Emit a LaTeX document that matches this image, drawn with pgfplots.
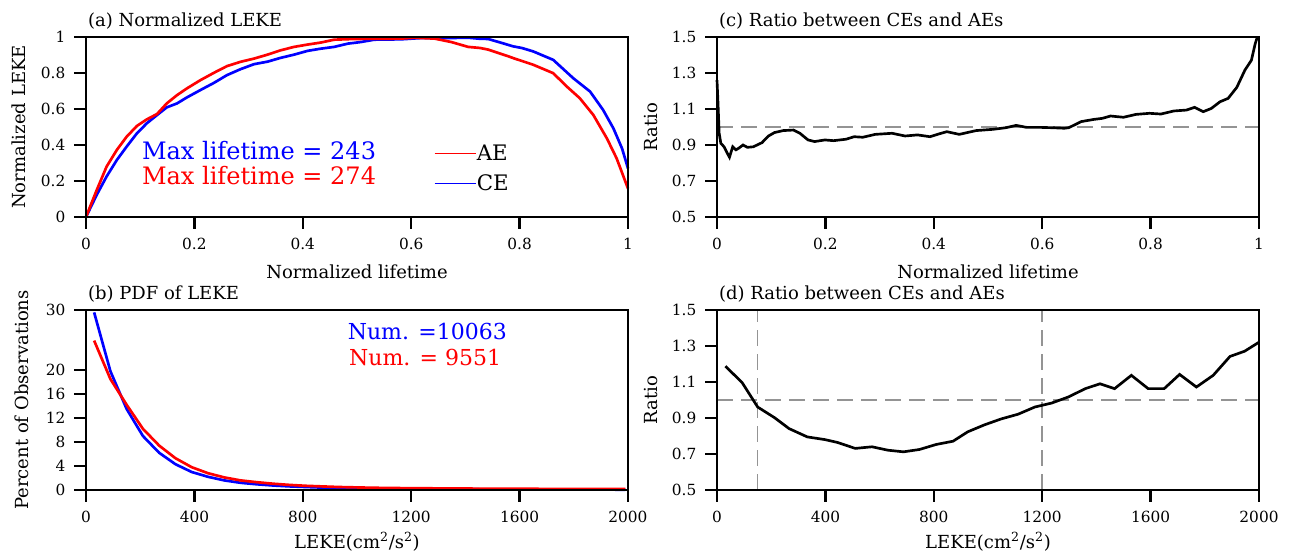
\documentclass[border=0pt]{standalone}
\usepackage{fontspec}
\setmainfont{DejaVu Serif}
\usepackage{pgfplots}
\pgfplotsset{compat=1.18}

\pgfplotsset{
  ncl/.style={
    scale only axis, width=406.5pt, height=135pt, anchor=south west,
    /pgf/number format/assume math mode=true,
    /pgf/number format/1000 sep={},
    axis line style={line width=2.2pt},
    tick align=outside, xtick pos=bottom, ytick pos=left,
    major tick length=9pt,
    tick style={line width=1.8pt},
    minor tick num=0,
    clip=false,
    unbounded coords=jump,
    ticklabel style={font=\fontsize{11.5}{12}\selectfont},
    xticklabel shift=3pt, yticklabel shift=3pt,
    title style={at={(axis description cs:0,1)}, anchor=base west, yshift=1.5pt, xshift=-2pt,
      font=\fontsize{13.5}{14}\selectfont},
    label style={font=\fontsize{13.5}{14}\selectfont},
    xlabel style={at={(axis description cs:0.5,0)}, anchor=base, yshift=-46pt},
    ylabel style={at={(axis description cs:-0.124,0.5)}, anchor=center},
  },
  refline/.style={color=black!42, line width=1.1pt, dash pattern=on 12pt off 6pt, forget plot},
}

\begin{document}
\begin{tikzpicture}
\useasboundingbox (0,0) rectangle (975pt,416.25pt);

% (a)
\begin{axis}[ncl, at={(64.5pt,253.5pt)},
  xmin=0, xmax=1, ymin=0, ymax=1,
  xtick={0,0.2,0.4,0.6,0.8,1}, ytick={0,0.2,0.4,0.6,0.8,1},
  title={(a) Normalized LEKE},
  xlabel={Normalized lifetime}, ylabel={Normalized LEKE},
  legend cell align=left,
  legend style={draw=none, fill=none, at={(rel axis cs:0.642,0.405)}, anchor=north west,
    inner sep=0pt, row sep=8pt, font=\fontsize{16}{16}\selectfont,
    nodes={inner sep=0.5pt}},
]
\addplot[blue, line width=2pt, forget plot] coordinates {
(0,0)(0.02,0.124)(0.038,0.225)(0.057,0.317)(0.075,0.391)(0.094,0.465)(0.112,0.52)
(0.131,0.566)(0.149,0.609)(0.168,0.631)(0.186,0.664)(0.211,0.705)(0.236,0.745)
(0.260,0.788)(0.285,0.821)(0.310,0.849)(0.335,0.863)(0.359,0.884)(0.384,0.902)
(0.409,0.923)(0.433,0.935)(0.458,0.945)(0.483,0.963)(0.507,0.972)(0.532,0.985)
(0.581,0.987)(0.618,0.994)(0.668,0.994)(0.705,0.996)(0.727,0.990)(0.742,0.989)
(0.767,0.967)(0.788,0.948)(0.804,0.939)(0.825,0.920)(0.862,0.873)(0.899,0.771)
(0.930,0.697)(0.954,0.595)(0.973,0.493)(0.989,0.381)(1.0,0.270)};
\addplot[red, line width=2pt, forget plot] coordinates {
(0,0)(0.02,0.151)(0.038,0.28)(0.057,0.373)(0.075,0.446)(0.094,0.506)(0.112,0.542)
(0.131,0.572)(0.149,0.631)(0.168,0.677)(0.186,0.714)(0.211,0.760)(0.236,0.801)
(0.260,0.838)(0.285,0.862)(0.310,0.880)(0.335,0.902)(0.359,0.926)(0.384,0.945)
(0.409,0.958)(0.433,0.969)(0.458,0.985)(0.495,0.989)(0.581,0.991)(0.606,0.996)
(0.643,0.991)(0.674,0.972)(0.705,0.945)(0.727,0.939)(0.742,0.930)(0.779,0.893)
(0.788,0.883)(0.825,0.846)(0.862,0.799)(0.887,0.725)(0.911,0.660)(0.936,0.567)
(0.961,0.437)(0.979,0.326)(1.0,0.158)};
% heavy frame and ticks
\addplot[black, line width=2.2pt, forget plot] coordinates {(0,0)(1,0)(1,1)(0,1)(0,0)(1,0)};
\addplot[black, line width=1.8pt, forget plot] coordinates {
(0,0)(0,-0.0667)(0,nan)(0.2,0)(0.2,-0.0667)(0.2,nan)(0.4,0)(0.4,-0.0667)(0.4,nan)
(0.6,0)(0.6,-0.0667)(0.6,nan)(0.8,0)(0.8,-0.0667)(0.8,nan)(1,0)(1,-0.0667)(1,nan)
(0,0)(-0.0221,0)(0,nan)(0,0.2)(-0.0221,0.2)(0,nan)(0,0.4)(-0.0221,0.4)(0,nan)
(0,0.6)(-0.0221,0.6)(0,nan)(0,0.8)(-0.0221,0.8)(0,nan)(0,1)(-0.0221,1)};
\addlegendimage{legend image code/.code={\draw[red, line width=0.7pt] (0pt,0pt) -- (30.75pt,0pt);}}
\addlegendentry{AE}
\addlegendimage{legend image code/.code={\draw[blue, line width=0.7pt] (0pt,0pt) -- (30.75pt,0pt);}}
\addlegendentry{CE}
\node[anchor=base west, text=blue, font=\fontsize{18}{18}\selectfont, inner sep=0pt]
  at (axis cs:0.103,0.317) {Max lifetime = 243};
\node[anchor=base west, text=red, font=\fontsize{18}{18}\selectfont, inner sep=0pt]
  at (axis cs:0.103,0.178) {Max lifetime = 274};
\end{axis}

% (b)
\begin{axis}[ncl, at={(64.5pt,48.75pt)},
  xmin=0, xmax=2000, ymin=0, ymax=30,
  xtick={0,400,800,1200,1600,2000}, ytick={0,4,8,12,16,20,30},
  title={(b) PDF of LEKE},
  xlabel={LEKE(cm\textsuperscript{2}/s\textsuperscript{2})},
  xlabel style={yshift=2pt},
  ylabel={Percent of Observations},
  ylabel style={at={(axis description cs:-0.118,0.5)}},
]
\addplot[blue, line width=2pt] coordinates {
(30,29.6)(90,19.8)(150,13.5)(210,9.0)(270,6.2)(330,4.3)(390,3.0)(450,2.2)(510,1.6)
(570,1.2)(630,0.95)(690,0.75)(750,0.6)(810,0.5)(870,0.4)(930,0.33)(990,0.28)
(1050,0.24)(1110,0.2)(1200,0.17)(1300,0.14)(1400,0.12)(1500,0.1)(1600,0.09)
(1700,0.08)(1800,0.07)(1900,0.06)(1990,0.05)};
\addplot[red, line width=2pt] coordinates {
(30,24.9)(90,18.5)(150,14.2)(210,10.2)(270,7.4)(330,5.3)(390,3.8)(450,2.8)(510,2.1)
(570,1.6)(630,1.3)(690,1.05)(750,0.85)(810,0.7)(870,0.6)(930,0.5)(990,0.44)
(1050,0.38)(1110,0.34)(1200,0.3)(1300,0.27)(1400,0.24)(1500,0.22)(1600,0.2)
(1700,0.19)(1800,0.18)(1900,0.17)(1990,0.16)};
\addplot[black, line width=2.2pt, forget plot] coordinates {(0,0)(2000,0)(2000,30)(0,30)(0,0)(2000,0)};
\addplot[black, line width=1.8pt, forget plot] coordinates {
(0,0)(0,-2)(0,nan)(400,0)(400,-2)(400,nan)(800,0)(800,-2)(800,nan)
(1200,0)(1200,-2)(1200,nan)(1600,0)(1600,-2)(1600,nan)(2000,0)(2000,-2)(2000,nan)
(0,0)(-44.3,0)(0,nan)(0,4)(-44.3,4)(0,nan)(0,8)(-44.3,8)(0,nan)(0,12)(-44.3,12)(0,nan)
(0,16)(-44.3,16)(0,nan)(0,20)(-44.3,20)(0,nan)(0,30)(-44.3,30)};
\node[anchor=base west, text=blue, font=\fontsize{16.5}{16.5}\selectfont, inner sep=0pt]
  at (axis cs:965,25.0) {Num. =10063};
\node[anchor=base west, text=red, font=\fontsize{16.5}{16.5}\selectfont, inner sep=0pt]
  at (axis cs:970,20.7) {Num. = 9551};
\end{axis}

% (c)
\begin{axis}[ncl, at={(537.75pt,253.5pt)},
  xmin=0, xmax=1, ymin=0.5, ymax=1.5,
  xtick={0,0.2,0.4,0.6,0.8,1}, ytick={0.5,0.7,0.9,1.1,1.3,1.5},
  yticklabel style={/pgf/number format/.cd, fixed, fixed zerofill, precision=1},
  title={(c) Ratio between CEs and AEs},
  xlabel={Normalized lifetime}, ylabel={Ratio},
  ylabel style={at={(axis description cs:-0.121,0.5)}},
]
\addplot[refline] coordinates {(0,1)(1,1)};
\addplot[black, line width=2pt] coordinates {
(0,1.26)(0.0016,1.15)(0.004,0.965)(0.007,0.91)(0.013,0.89)(0.019,0.854)(0.023,0.832)
(0.029,0.89)(0.035,0.873)(0.040,0.882)(0.048,0.90)(0.056,0.887)(0.067,0.89)
(0.083,0.913)(0.095,0.95)(0.106,0.969)(0.122,0.98)(0.141,0.983)(0.153,0.965)
(0.168,0.928)(0.180,0.919)(0.199,0.928)(0.215,0.924)(0.238,0.932)(0.253,0.946)
(0.269,0.943)(0.292,0.959)(0.323,0.965)(0.347,0.950)(0.370,0.956)(0.393,0.946)
(0.409,0.961)(0.424,0.974)(0.447,0.959)(0.478,0.980)(0.509,0.987)(0.533,0.996)
(0.552,1.009)(0.571,0.998)(0.595,0.998)(0.618,0.996)(0.641,0.993)(0.649,0.996)
(0.672,1.03)(0.695,1.042)(0.711,1.048)(0.726,1.061)(0.750,1.054)(0.773,1.07)
(0.798,1.076)(0.819,1.072)(0.843,1.089)(0.866,1.094)(0.881,1.109)(0.897,1.085)
(0.912,1.103)(0.928,1.140)(0.943,1.159)(0.959,1.220)(0.974,1.316)(0.986,1.371)
(0.993,1.463)(0.997,1.5)};
\addplot[black, line width=2.2pt, forget plot] coordinates {(0,0.5)(1,0.5)(1,1.5)(0,1.5)(0,0.5)(1,0.5)};
\addplot[black, line width=1.8pt, forget plot] coordinates {
(0,0.5)(0,0.4333)(0,nan)(0.2,0.5)(0.2,0.4333)(0.2,nan)(0.4,0.5)(0.4,0.4333)(0.4,nan)
(0.6,0.5)(0.6,0.4333)(0.6,nan)(0.8,0.5)(0.8,0.4333)(0.8,nan)(1,0.5)(1,0.4333)(1,nan)
(0,0.5)(-0.0221,0.5)(0,nan)(0,0.7)(-0.0221,0.7)(0,nan)(0,0.9)(-0.0221,0.9)(0,nan)
(0,1.1)(-0.0221,1.1)(0,nan)(0,1.3)(-0.0221,1.3)(0,nan)(0,1.5)(-0.0221,1.5)};
\end{axis}

% (d)
\begin{axis}[ncl, at={(537.75pt,48.75pt)},
  xmin=0, xmax=2000, ymin=0.5, ymax=1.5,
  xtick={0,400,800,1200,1600,2000}, ytick={0.5,0.7,0.9,1.1,1.3,1.5},
  yticklabel style={/pgf/number format/.cd, fixed, fixed zerofill, precision=1},
  title={(d) Ratio between CEs and AEs},
  xlabel={LEKE(cm\textsuperscript{2}/s\textsuperscript{2})},
  xlabel style={yshift=2pt},
  ylabel={Ratio},
  ylabel style={at={(axis description cs:-0.121,0.5)}},
]
\addplot[refline] coordinates {(0,1)(2000,1)};
\addplot[refline] coordinates {(150,0.5)(150,1.5)};
\addplot[refline] coordinates {(1200,0.5)(1200,1.5)};
\addplot[black, line width=2pt] coordinates {
(31,1.188)(93,1.096)(150,0.961)(212,0.902)(266,0.841)(333,0.795)(398,0.780)
(445,0.764)(510,0.731)(572,0.740)(631,0.721)(688,0.712)(747,0.725)(809,0.753)
(871,0.771)(925,0.823)(987,0.862)(1049,0.895)(1111,0.921)(1173,0.961)(1235,0.983)
(1297,1.017)(1359,1.063)(1413,1.090)(1467,1.063)(1529,1.137)(1591,1.063)(1650,1.063)
(1707,1.142)(1769,1.072)(1831,1.137)(1893,1.242)(1947,1.271)(2000,1.321)};
\addplot[black, line width=2.2pt, forget plot] coordinates {(0,0.5)(2000,0.5)(2000,1.5)(0,1.5)(0,0.5)(2000,0.5)};
\addplot[black, line width=1.8pt, forget plot] coordinates {
(0,0.5)(0,0.4333)(0,nan)(400,0.5)(400,0.4333)(400,nan)(800,0.5)(800,0.4333)(800,nan)
(1200,0.5)(1200,0.4333)(1200,nan)(1600,0.5)(1600,0.4333)(1600,nan)(2000,0.5)(2000,0.4333)(2000,nan)
(0,0.5)(-44.3,0.5)(0,nan)(0,0.7)(-44.3,0.7)(0,nan)(0,0.9)(-44.3,0.9)(0,nan)
(0,1.1)(-44.3,1.1)(0,nan)(0,1.3)(-44.3,1.3)(0,nan)(0,1.5)(-44.3,1.5)};
\end{axis}
\end{tikzpicture}
\end{document}
